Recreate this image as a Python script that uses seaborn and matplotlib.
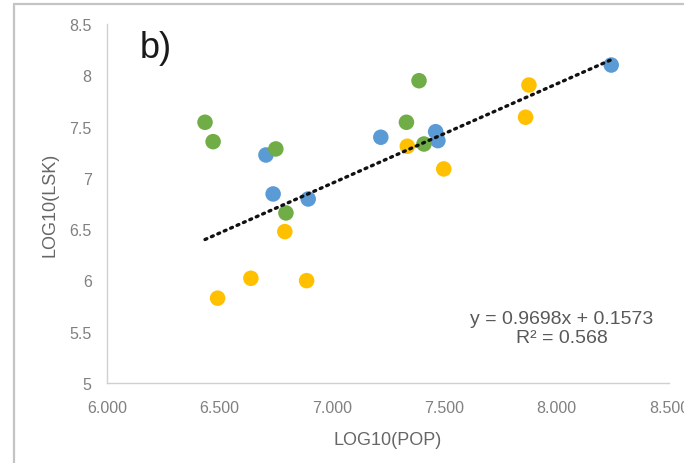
import numpy as np
import pandas as pd
import seaborn as sns
import matplotlib
matplotlib.use("Agg")
import matplotlib.pyplot as plt
from matplotlib.lines import Line2D

# Observations (log10 population vs log10 LSK), three groups
green_x = [6.436, 6.472, 6.751, 6.796, 7.388, 7.332, 7.410]
green_y = [7.542, 7.353, 7.282, 6.658, 7.947, 7.542, 7.330]
blue_x = [6.707, 6.739, 6.895, 7.218, 7.462, 7.472, 8.243]
blue_y = [7.223, 6.843, 6.794, 7.396, 7.450, 7.363, 8.100]
yellow_x = [6.791, 7.336, 7.498, 6.640, 6.888, 6.492, 7.877, 7.862]
yellow_y = [6.476, 7.308, 7.087, 6.021, 5.998, 5.827, 7.905, 7.591]

# Linear trend reported on the chart
slope = 0.9698
intercept = 0.1573
r_squared = 0.568

x_ticks = [6.0, 6.5, 7.0, 7.5, 8.0, 8.5]
y_ticks = [5, 5.5, 6, 6.5, 7, 7.5, 8, 8.5]
x_title = "LOG10(POP)"
y_title = "LOG10(LSK)"
panel_tag = "b)"

df = pd.concat([
    pd.DataFrame({"pop": yellow_x, "lsk": yellow_y, "group": "Series 3"}),
    pd.DataFrame({"pop": blue_x, "lsk": blue_y, "group": "Series 1"}),
    pd.DataFrame({"pop": green_x, "lsk": green_y, "group": "Series 2"}),
], ignore_index=True)
palette = {"Series 1": "#5b9bd5", "Series 2": "#70ad47", "Series 3": "#ffc000"}

sns.set_theme(style="white")
plt.rcParams["font.family"] = ["Liberation Sans", "DejaVu Sans"]

fig = plt.figure(figsize=(6.84, 4.64), dpi=100)
ax = fig.add_axes([107 / 684, 1 - 384 / 464, 562 / 684, 359 / 464])

sns.scatterplot(data=df, x="pop", y="lsk", hue="group", palette=palette,
                s=125, linewidth=0, legend=False, ax=ax, zorder=3)

# Trend line over the data range
xs = np.array([df["pop"].min(), df["pop"].max()])
sns.lineplot(x=xs, y=slope * xs + intercept, ax=ax, color="#111111",
             linewidth=2.4, linestyle=(0, (0.6, 1.5)), zorder=4)
ax.lines[-1].set_dash_capstyle("round")

ax.set_xlim(6.0, 8.5)
ax.set_ylim(5, 8.5)
ax.set_xticks(x_ticks)
ax.set_xticklabels([f"{v:.3f}" for v in x_ticks])
ax.set_yticks(y_ticks)
ax.set_yticklabels([f"{v:g}" for v in y_ticks])

for side in ("top", "right"):
    ax.spines[side].set_visible(False)
for side in ("left", "bottom"):
    ax.spines[side].set_color("#d0d0d0")
    ax.spines[side].set_linewidth(1.0)

ax.tick_params(axis="both", direction="in", length=4, width=0.8,
               color="#d0d0d0", labelsize=11.5, labelcolor="#808080")
ax.tick_params(axis="x", pad=12)
ax.tick_params(axis="y", pad=11)

ax.set_xlabel(x_title, fontsize=13, color="#666666")
ax.set_ylabel(y_title, fontsize=13, color="#666666")
ax.xaxis.set_label_coords(0.5, -0.135)
ax.yaxis.set_label_coords(-0.087, 0.5)

ax.text(140 / 684, 1 - 48 / 464, panel_tag, transform=fig.transFigure,
        fontsize=26, color="#1a1a1a", ha="left", va="center")

eq_text = f"y = {slope:.4f}x + {intercept:.4f}\nR² = {r_squared:.3f}"
fig.text(562 / 684, 1 - 329 / 464, eq_text, fontsize=14, color="#595959",
         ha="center", va="center", multialignment="center", linespacing=1.15)

# Outer frame edges of the chart area
fig.add_artist(Line2D([14 / 684, 1], [1 - 5 / 464, 1 - 5 / 464],
                      transform=fig.transFigure, color="#c4c4c4", linewidth=1.6))
fig.add_artist(Line2D([14 / 684, 14 / 684], [0, 1 - 5 / 464],
                      transform=fig.transFigure, color="#c4c4c4", linewidth=1.6))

fig.savefig("out.png", dpi=100, facecolor="white")
